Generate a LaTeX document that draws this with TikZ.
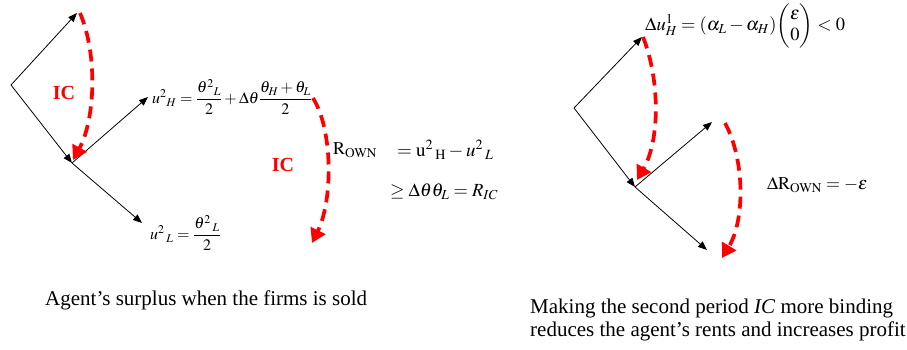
\documentclass[tikz,border=0pt]{standalone}
\usepackage{mathptmx}
\usepackage[no-math]{fontspec}
\setmainfont{Liberation Serif}
\usepackage{amsmath}
\usetikzlibrary{arrows.meta}
\tikzset{
  vec/.style={draw=black, line width=0.8pt, -{Triangle[length=9pt,width=7pt]}},
  icarc/.style={draw=red, line width=3.7pt, dash pattern=on 12pt off 7pt, -{Triangle[length=14pt,width=16pt]}},
  iclab/.style={text=red, font=\fontsize{20}{24}\selectfont\bfseries},
  fml/.style={inner sep=0pt, anchor=west, font=\fontsize{16}{19}\selectfont},
  captext/.style={inner sep=0pt, anchor=west, font=\fontsize{21}{23}\selectfont, align=left}
}
\begin{document}
\begin{tikzpicture}[x=1pt,y=-1pt]
\useasboundingbox (0,0) rectangle (907,349);
% left diagram
\coordinate (a0) at (11,85);
\coordinate (a1) at (77,13);
\coordinate (a2) at (72,163);
\coordinate (a3) at (148,97);
\coordinate (a4) at (142,223);
\draw[vec] (a0) -- (a1);
\draw[vec] (a0) -- (a2);
\draw[vec] (a2) -- (a3);
\draw[vec] (a2) -- (a4);
\coordinate (r1s) at (80,13);
\coordinate (r1e) at (73,160);
\draw[icarc] (r1s) .. controls (98,55) and (95,120) .. (r1e);
\coordinate (r2s) at (313,98);
\coordinate (r2e) at (312,243);
\draw[icarc] (r2s) .. controls (333,130) and (333,200) .. (r2e);
\node[iclab] (ic1) at (64,93) {IC};
\node[iclab] (ic2) at (283,165) {IC};
\node[fml] (uh) at (152,97) {$u^{2}{}_{H}=\dfrac{\theta^{2}{}_{L}}{2}+\Delta\theta\dfrac{\theta_{H}+\theta_{L}}{2}$};
\node[fml] (ul) at (150,233) {$u^{2}\,{}_{L}=\dfrac{\theta^{2}\,{}_{L}}{2}$};
\node[fml, font=\fontsize{18}{21}\selectfont] (rown) at (333,150) {$\mathrm{R}_{\mathrm{OWN}}$};
\node[fml, font=\fontsize{19}{22}\selectfont] (rdef) at (397,150) {$=\mathrm{u}^{2}\,{}_{\mathrm{H}}-u^{2}\,{}_{L}$};
\node[fml, font=\fontsize{18.5}{22}\selectfont] (ric) at (390,192) {$\geq\Delta\theta\theta_{L}=R_{IC}$};
% right diagram
\coordinate (b0) at (574,108);
\coordinate (b1) at (642,37);
\coordinate (b2) at (635,187);
\coordinate (b3) at (712,122);
\coordinate (b4) at (707,250);
\draw[vec] (b0) -- (b1);
\draw[vec] (b0) -- (b2);
\draw[vec] (b2) -- (b3);
\draw[vec] (b2) -- (b4);
\coordinate (r3s) at (643,37);
\coordinate (r3e) at (637,180);
\draw[icarc] (r3s) .. controls (660,80) and (660,140) .. (r3e);
\coordinate (r4s) at (725,123);
\coordinate (r4e) at (722,258);
\draw[icarc] (r4s) .. controls (745,160) and (745,220) .. (r4e);
\node[fml, font=\fontsize{18.5}{21}\selectfont] (du) at (645,26) {$\Delta u^{1}_{H}=\left(\alpha_{L}-\alpha_{H}\right)\!\begin{pmatrix}\varepsilon\\0\end{pmatrix}<0$};
\node[fml, font=\fontsize{18}{21}\selectfont] (dr) at (767,185) {$\Delta\mathrm{R}_{\mathrm{OWN}}=-\varepsilon$};
% captions
\node[captext] (cap1) at (45,300) {Agent’s surplus when the firms is sold};
\node[captext] (cap2) at (530,320) {Making the second period \textit{IC} more binding\\reduces the agent’s rents and increases profit};
\end{tikzpicture}
\end{document}
